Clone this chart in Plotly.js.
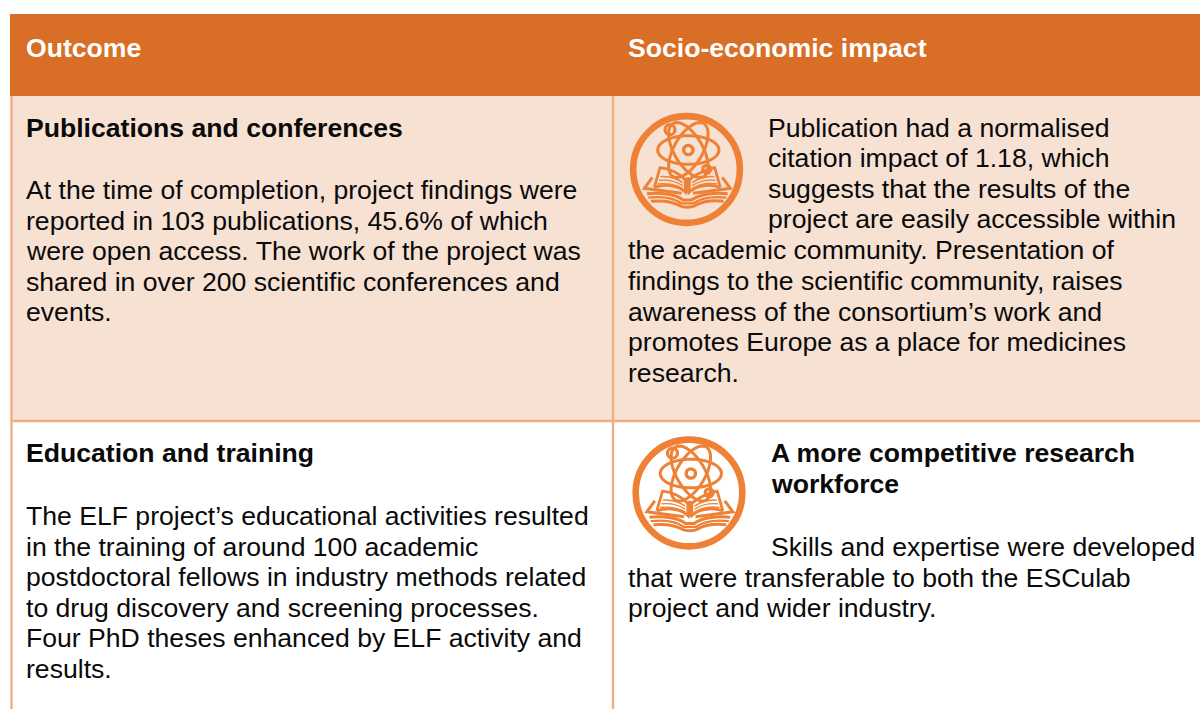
<!DOCTYPE html>
<html><head><meta charset="utf-8">
<script src="https://cdn.plot.ly/plotly-3.0.1.min.js"></script>
<style>html,body{margin:0;padding:0;background:#fff;overflow:hidden}</style></head>
<body><div id="chart" style="width:1200px;height:709px"></div>
<script>
const headers = ["Outcome", "Socio-economic impact"];
const outcome1Title = "Publications and conferences";
const outcome1Lines = ["At the time of completion, project findings were","reported in 103 publications, 45.6% of which","were open access. The work of the project was","shared in over 200 scientific conferences and","events."];
const impact1Lines = ["Publication had a normalised","citation impact of 1.18, which","suggests that the results of the","project are easily accessible within","the academic community. Presentation of","findings to the scientific community, raises","awareness of the consortium’s work and","promotes Europe as a place for medicines","research."];
const outcome2Title = "Education and training";
const outcome2Lines = ["The ELF project’s educational activities resulted","in the training of around 100 academic","postdoctoral fellows in industry methods related","to drug discovery and screening processes.","Four PhD theses enhanced by ELF activity and","results."];
const impact2Title = ["A more competitive research","workforce"];
const impact2Lines = ["Skills and expertise were developed","that were transferable to both the ESCulab","project and wider industry."];

const ORANGE="#D96F27", PEACH="#F7E1D3", RULE="#F0AE84", ICON="#EE8136";
const FONT="Liberation Sans, Arial, sans-serif";
const annotations=[], shapes=[];
function txt(s,x,y,o){o=o||{};annotations.push({text:s,x:x,y:y,xref:"x",yref:"y",xanchor:"left",yanchor:"middle",showarrow:false,align:"left",borderpad:0,
  font:{family:FONT,size:o.size||26.6,color:o.color||"#0a0a0a"}});}
function block(lines,x,ys,o){lines.forEach((l,i)=>txt(o&&o.bold?"<b>"+l+"</b>":l,x,ys[i],o));}
function rect(x0,y0,x1,y1,fill){shapes.push({type:"rect",layer:"below",x0,y0,x1,y1,fillcolor:fill,line:{width:0}});}
function line(x0,y0,x1,y1){shapes.push({type:"line",layer:"below",x0,y0,x1,y1,line:{color:RULE,width:2.4}});}

rect(10,14,1200,96,ORANGE);
rect(12,96,1200,420,PEACH);
line(11.5,96,11.5,709);
line(613,96,613,709);
line(11,421,1200,421);

txt("<b>"+headers[0]+"</b>",25,48,{color:"#fff"});
txt("<b>"+headers[1]+"</b>",627,48,{color:"#fff"});
txt("<b>"+outcome1Title+"</b>",25,128);
block(outcome1Lines,25,[190,221,251,282,312]);
block(impact1Lines.slice(0,4),767,[128,158,189,219]);
block(impact1Lines.slice(4),627,[250,281,312,342,373]);
txt("<b>"+outcome2Title+"</b>",25,453);
block(outcome2Lines,25,[516,547,577,608,638,669]);
block(impact2Title,770,[453,484],{bold:true});
txt(impact2Lines[0],770,547);
block(impact2Lines.slice(1),627,[578,608]);

function icon(cx,cy){
  const X=v=>+(cx+(v-214.5)/3).toFixed(2), Y=v=>+(cy+(v-210)/3).toFixed(2);
  const st=(w)=>({color:ICON,width:w});
  function circ(zx,zy,r,w){shapes.push({type:"circle",layer:"above",x0:X(zx-r),x1:X(zx+r),y0:Y(zy-r),y1:Y(zy+r),line:st(w),fillcolor:"rgba(0,0,0,0)"});}
  function ell(zx,zy,a,b,deg){const t=deg*Math.PI/180;let p="";
    for(let i=0;i<=48;i++){const u=i/48*2*Math.PI,dx=a*Math.cos(u),dy=b*Math.sin(u);
      p+=(i?"L":"M")+X(zx+dx*Math.cos(t)-dy*Math.sin(t))+","+Y(zy+dx*Math.sin(t)+dy*Math.cos(t));}
    shapes.push({type:"path",layer:"above",path:p+"Z",line:st(3)});}
  function path(d,w,fill){const toks=d.split(" ");let out="",isX=true;
    toks.forEach(t=>{if(/^[A-Z]$/.test(t)){out+=t;isX=true;}else{out+=(isX?X(+t):Y(+t))+(isX?",":" ");isX=!isX;}});
    shapes.push({type:"path",layer:"above",path:out,line:fill?{width:0}:st(w),fillcolor:fill||"rgba(0,0,0,0)"});}
  circ(214.5,208.5,160,6.6);
  ell(220,150,92,43,0); ell(220,150,92,43,60); ell(220,150,92,43,-60);
  circ(220,150,14,3.4);
  circ(165,89,15,3.2); circ(275,208,12,3.2);
  // open book
  path("M 118 262 L 135 203 C 165 205 195 222 211 240 L 211 276 C 190 255 150 252 118 262",2.8);
  path("M 316 262 L 299 203 C 285 205 240 222 223 240 L 223 276 C 245 255 285 252 316 262",2.8);
  path("M 211 232 L 223 232 L 223 280 L 211 280 Z",1,ICON);
  path("M 136 230 C 160 228 185 235 203 248",1.4); path("M 132 241 C 160 238 185 245 203 257",1.4); path("M 128 252 C 155 248 185 254 203 266",1.4);
  path("M 298 230 C 275 228 250 235 231 248",1.4); path("M 302 241 C 275 238 250 245 231 257",1.4); path("M 306 252 C 280 248 250 254 231 266",1.4);
  path("M 112 232 L 88 265 L 200 280",3); path("M 322 232 L 346 265 L 234 280",3);
  path("M 96 281 C 140 276 185 285 204 300 L 230 300 C 250 285 295 276 338 281",3);
  path("M 100 293 C 145 288 180 297 198 310 L 236 310 C 255 297 290 288 334 293",2.4);
  path("M 108 304 C 145 300 175 306 196 318 C 205 323 228 323 238 318 C 258 306 290 300 326 304",3);
}
icon(686.5,170);
icon(689,493.5);

Plotly.newPlot("chart",[{type:"scatter",x:[],y:[],hoverinfo:"skip"}],{
  width:1200,height:709,margin:{l:0,r:0,t:0,b:0},paper_bgcolor:"#fff",plot_bgcolor:"#fff",showlegend:false,
  xaxis:{range:[0,1200],visible:false,fixedrange:true},
  yaxis:{range:[709,0],visible:false,fixedrange:true},
  annotations,shapes
},{displayModeBar:false,staticPlot:true});
</script></body></html>
